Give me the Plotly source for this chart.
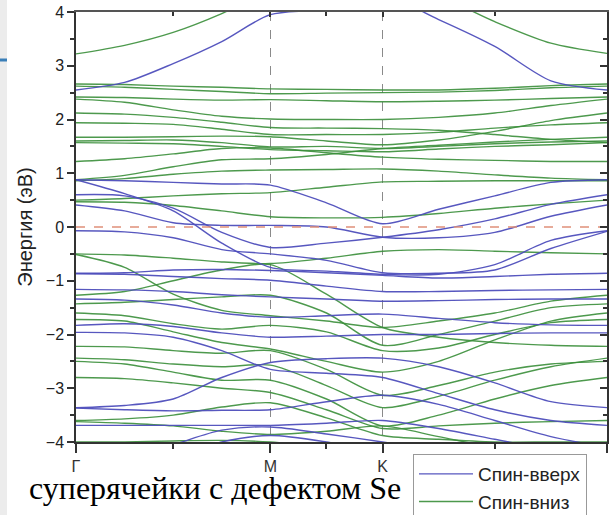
import numpy as np
import plotly.graph_objects as go

# high-symmetry path (hexagonal BZ, reduced units)
k_nodes = [0.0, 1 / np.sqrt(3), 1 / np.sqrt(3) + 1 / 3, 1 / np.sqrt(3) + 1.0]
k_labels = ["Γ", "M", "K", "Γ"]
# sampling: 4 steps Γ-M, 2 steps M-K, 4 steps K-Γ
k_pos = np.concatenate([
    np.linspace(k_nodes[0], k_nodes[1], 5)[:-1],
    np.linspace(k_nodes[1], k_nodes[2], 3)[:-1],
    np.linspace(k_nodes[2], k_nodes[3], 5),
])

# energies (eV) at the 11 k-points
spin_up_bands = [
    [2.55, 2.69, 3.04, 3.45, 3.95, 4.05, 4.3, 3.86, 3.36, 2.72, 2.55],
    [0.88, 0.86, 0.83, 0.8, 0.78, 0.45, 0.06, 0.33, 0.58, 0.83, 0.88],
    [0.88, 0.62, 0.3, -0.3, -0.75, -0.82, -0.88, -0.88, -0.7, -0.25, -0.07],
    [0.6, 0.58, 0.35, -0.1, -0.38, -0.3, -0.19, -0.05, 0.15, 0.42, 0.6],
    [0.41, 0.3, 0.08, 0.03, 0.03, 0.0, -0.19, -0.2, -0.1, 0.2, 0.41],
    [-0.07, -0.09, -0.2, -0.42, -0.5, -0.62, -0.85, -0.86, -0.8, -0.4, -0.08],
    [-0.86, -0.85, -0.8, -0.79, -0.81, -0.85, -0.9, -0.95, -0.92, -0.88, -0.86],
    [-0.87, -0.88, -0.92, -0.96, -0.99, -1.1, -1.2, -1.2, -1.18, -1.17, -1.16],
    [-1.16, -1.17, -1.2, -1.26, -1.3, -1.34, -1.38, -1.37, -1.35, -1.34, -1.34],
    [-1.34, -1.36, -1.45, -1.6, -1.68, -1.65, -1.62, -1.7, -1.78, -1.82, -1.83],
    [-1.83, -1.8, -1.85, -1.97, -2.05, -2.03, -2.0, -2.0, -1.98, -1.97, -1.97],
    [-1.96, -1.97, -2.05, -2.3, -2.65, -2.72, -2.8, -3.1, -3.4, -3.6, -3.69],
    [-3.36, -3.32, -3.2, -2.8, -2.52, -2.45, -2.44, -2.6, -2.9, -3.25, -3.36],
    [-3.37, -3.4, -3.42, -3.41, -3.4, -3.25, -3.13, -3.3, -3.6, -3.9, -4.1],
    [-3.69, -3.69, -3.69, -3.69, -3.69, -3.65, -3.6, -3.75, -3.95, -4.15, -4.3],
    [-4.5, -4.3, -4.05, -3.78, -3.72, -3.85, -4.0, -4.15, -4.3, -4.4, -4.5],
    [-4.6, -4.5, -4.3, -4.0, -3.88, -4.0, -4.2, -4.35, -4.45, -4.5, -4.6],
]

spin_down_bands = [
    [3.22, 3.38, 3.62, 3.97, 4.4, 4.6, 4.6, 4.3, 3.82, 3.42, 3.23],
    [2.66, 2.65, 2.62, 2.6, 2.57, 2.56, 2.55, 2.55, 2.58, 2.63, 2.66],
    [2.62, 2.6, 2.56, 2.52, 2.48, 2.49, 2.5, 2.51, 2.54, 2.59, 2.62],
    [2.42, 2.41, 2.38, 2.36, 2.37, 2.35, 2.33, 2.34, 2.36, 2.39, 2.42],
    [2.38, 2.32, 2.18, 2.06, 2.01, 2.0, 2.0, 2.04, 2.12, 2.26, 2.38],
    [2.12, 2.1, 2.04, 1.95, 1.85, 1.84, 1.83, 1.8, 1.72, 1.63, 1.57],
    [1.94, 1.93, 1.91, 1.82, 1.72, 1.72, 1.72, 1.76, 1.84, 1.9, 1.94],
    [1.67, 1.67, 1.68, 1.69, 1.68, 1.6, 1.53, 1.62, 1.78, 1.98, 2.12],
    [1.6, 1.61, 1.62, 1.57, 1.49, 1.5, 1.46, 1.5, 1.55, 1.58, 1.6],
    [1.57, 1.56, 1.55, 1.5, 1.44, 1.42, 1.4, 1.45, 1.5, 1.53, 1.57],
    [1.22, 1.27, 1.36, 1.46, 1.47, 1.38, 1.3, 1.26, 1.24, 1.22, 1.22],
    [0.88, 0.96, 1.12, 1.25, 1.27, 1.35, 1.46, 1.52, 1.58, 1.63, 1.67],
    [0.86, 0.9, 0.98, 1.04, 1.06, 1.07, 1.08, 1.04, 0.97, 0.91, 0.88],
    [0.5, 0.53, 0.58, 0.62, 0.64, 0.74, 0.84, 0.85, 0.86, 0.86, 0.86],
    [0.47, 0.46, 0.4, 0.3, 0.19, 0.17, 0.18, 0.25, 0.35, 0.43, 0.5],
    [-0.5, -0.52, -0.58, -0.65, -0.68, -0.58, -0.45, -0.42, -0.45, -0.48, -0.5],
    [-0.51, -0.75, -1.25, -1.55, -1.65, -1.75, -1.87, -1.75, -1.6, -1.38, -1.27],
    [-1.27, -1.2, -1.0, -0.8, -0.7, -1.25, -1.87, -2.05, -2.15, -2.2, -2.22],
    [-1.43, -1.4, -1.35, -1.3, -1.27, -1.6, -2.2, -2.0, -1.75, -1.5, -1.43],
    [-1.6, -1.65, -1.8, -1.9, -1.83, -1.95, -2.3, -2.25, -2.0, -1.78, -1.72],
    [-1.72, -1.75, -1.95, -2.15, -2.27, -2.5, -2.7, -2.5, -2.1, -1.75, -1.6],
    [-2.22, -2.23, -2.3, -2.35, -2.3, -2.65, -3.13, -2.95, -2.7, -2.55, -2.5],
    [-2.44, -2.47, -2.55, -2.6, -2.57, -2.95, -3.36, -3.15, -2.85, -2.6, -2.44],
    [-2.5, -2.55, -2.7, -2.85, -2.85, -3.2, -3.7, -3.5, -3.2, -2.95, -2.8],
    [-2.8, -2.82, -2.9, -3.0, -3.08, -3.4, -3.75, -3.7, -3.65, -3.62, -3.6],
    [-3.6, -3.57, -3.5, -3.35, -3.27, -3.55, -3.88, -3.95, -4.0, -4.0, -4.0],
    [-3.62, -3.65, -3.7, -3.8, -3.86, -3.8, -3.7, -3.9, -4.1, -4.2, -4.3],
    [-4.0, -4.0, -3.98, -3.97, -4.0, -4.1, -4.2, -4.3, -4.4, -4.45, -4.5],
]

fermi_level = 0.0
y_range = [-4, 4]
names = ["Спин-вверх", "Спин-вниз"]
caption = "суперячейки с дефектом Se"

BLUE = "rgba(78,78,188,0.95)"
GREEN = "rgba(58,142,58,0.9)"

fig = go.Figure()

for i, band in enumerate(spin_down_bands):
    fig.add_trace(go.Scatter(
        x=k_pos, y=band, mode="lines",
        line=dict(color=GREEN, width=1.4, shape="spline", smoothing=0.8),
        name=names[1], legendgroup="dn", showlegend=(i == 0), legendrank=2,
        hoverinfo="skip"))

for i, band in enumerate(spin_up_bands):
    fig.add_trace(go.Scatter(
        x=k_pos, y=band, mode="lines",
        line=dict(color=BLUE, width=1.4, shape="spline", smoothing=0.8),
        name=names[0], legendgroup="up", showlegend=(i == 0), legendrank=1,
        hoverinfo="skip"))

fig.add_trace(go.Scatter(
    x=[k_nodes[0], k_nodes[-1]], y=[fermi_level, fermi_level], mode="lines",
    line=dict(color="#e0907a", width=1.3, dash="dash"),
    showlegend=False, hoverinfo="skip"))

# invisible trace for mirror axes
fig.add_trace(go.Scatter(x=[k_nodes[0]], y=[0], xaxis="x2", yaxis="y2",
                         mode="markers", marker=dict(opacity=0),
                         showlegend=False, hoverinfo="skip"))

mid_ticks = [(k_nodes[i] + k_nodes[i + 1]) / 2 for i in range(3)]

fig.update_layout(
    width=610, height=515,
    margin=dict(l=76, r=3, t=12, b=73, autoexpand=False),
    paper_bgcolor="white", plot_bgcolor="white",
    font=dict(family="Liberation Sans, Arial, sans-serif", color="#222"),
    xaxis=dict(
        range=[k_nodes[0], k_nodes[-1]],
        tickmode="array", tickvals=k_nodes, ticktext=k_labels,
        ticks="outside", ticklen=9, tickwidth=1.5, tickcolor="#333",
        tickfont=dict(size=16, color="#333"),
        showline=True, linecolor="#333", linewidth=1.5,
        showgrid=True, gridcolor="#8a8a8a", gridwidth=1, griddash="dash",
        zeroline=False,
        minor=dict(tickvals=mid_ticks, ticks="outside", ticklen=5,
                   tickcolor="#333", tickwidth=1.5, showgrid=False),
    ),
    yaxis=dict(
        range=y_range, dtick=1, tick0=0,
        ticks="outside", ticklen=7, tickwidth=1.5, tickcolor="#333",
        tickfont=dict(size=16, color="#222"),
        showline=True, linecolor="#333", linewidth=1.5,
        showgrid=False, zeroline=False,
        title=dict(text="Энергия (эВ)", font=dict(size=20, color="#222"),
                   standoff=8),
        minor=dict(dtick=0.5, ticks="outside", ticklen=4,
                   tickcolor="#333", tickwidth=1.5, showgrid=False),
    ),
    xaxis2=dict(
        overlaying="x", side="top", range=[k_nodes[0], k_nodes[-1]],
        tickmode="array", tickvals=k_nodes, ticktext=["", "", "", ""],
        ticks="inside", ticklen=5, tickwidth=1.5,
        tickcolor="#333", showticklabels=False, showline=True,
        linecolor="#555", linewidth=1.5, showgrid=False, zeroline=False,
        minor=dict(tickvals=mid_ticks, ticks="inside", ticklen=4,
                   tickcolor="#333", tickwidth=1.5),
    ),
    yaxis2=dict(
        overlaying="y", side="right", range=y_range, dtick=1,
        ticks="inside", ticklen=7, tickwidth=1.5, tickcolor="#333",
        showticklabels=False, showline=True, linecolor="#333",
        linewidth=1.5, showgrid=False, zeroline=False,
        minor=dict(dtick=0.5, ticks="inside", ticklen=4,
                   tickcolor="#333", tickwidth=1.5),
    ),
    legend=dict(
        x=(413 - 76) / 531, y=(442 - 454) / 430,
        xanchor="left", yanchor="top",
        bgcolor="white", bordercolor="#999", borderwidth=1,
        font=dict(size=19, color="#222"),
        tracegroupgap=0, itemwidth=54,
    ),
    showlegend=True,
)

fig.add_annotation(
    text=caption, xref="paper", yref="paper",
    x=(27 - 76) / 531, y=(442 - 488) / 430,
    xanchor="left", yanchor="middle", showarrow=False,
    font=dict(family="Liberation Serif, Times New Roman, serif",
              size=32, color="black"),
)

# screenshot margin strip on the left
fig.add_shape(type="rect", xref="paper", yref="paper",
              x0=-76 / 531, x1=(7 - 76) / 531,
              y0=(442 - 515) / 430, y1=442 / 430,
              fillcolor="#ececec", line=dict(width=0), layer="below")
fig.add_shape(type="line", xref="paper", yref="paper",
              x0=-76 / 531, x1=(7 - 76) / 531,
              y0=(442 - 60) / 430, y1=(442 - 60) / 430,
              line=dict(color="#3a7fb8", width=3))

fig.write_html("out.html")
